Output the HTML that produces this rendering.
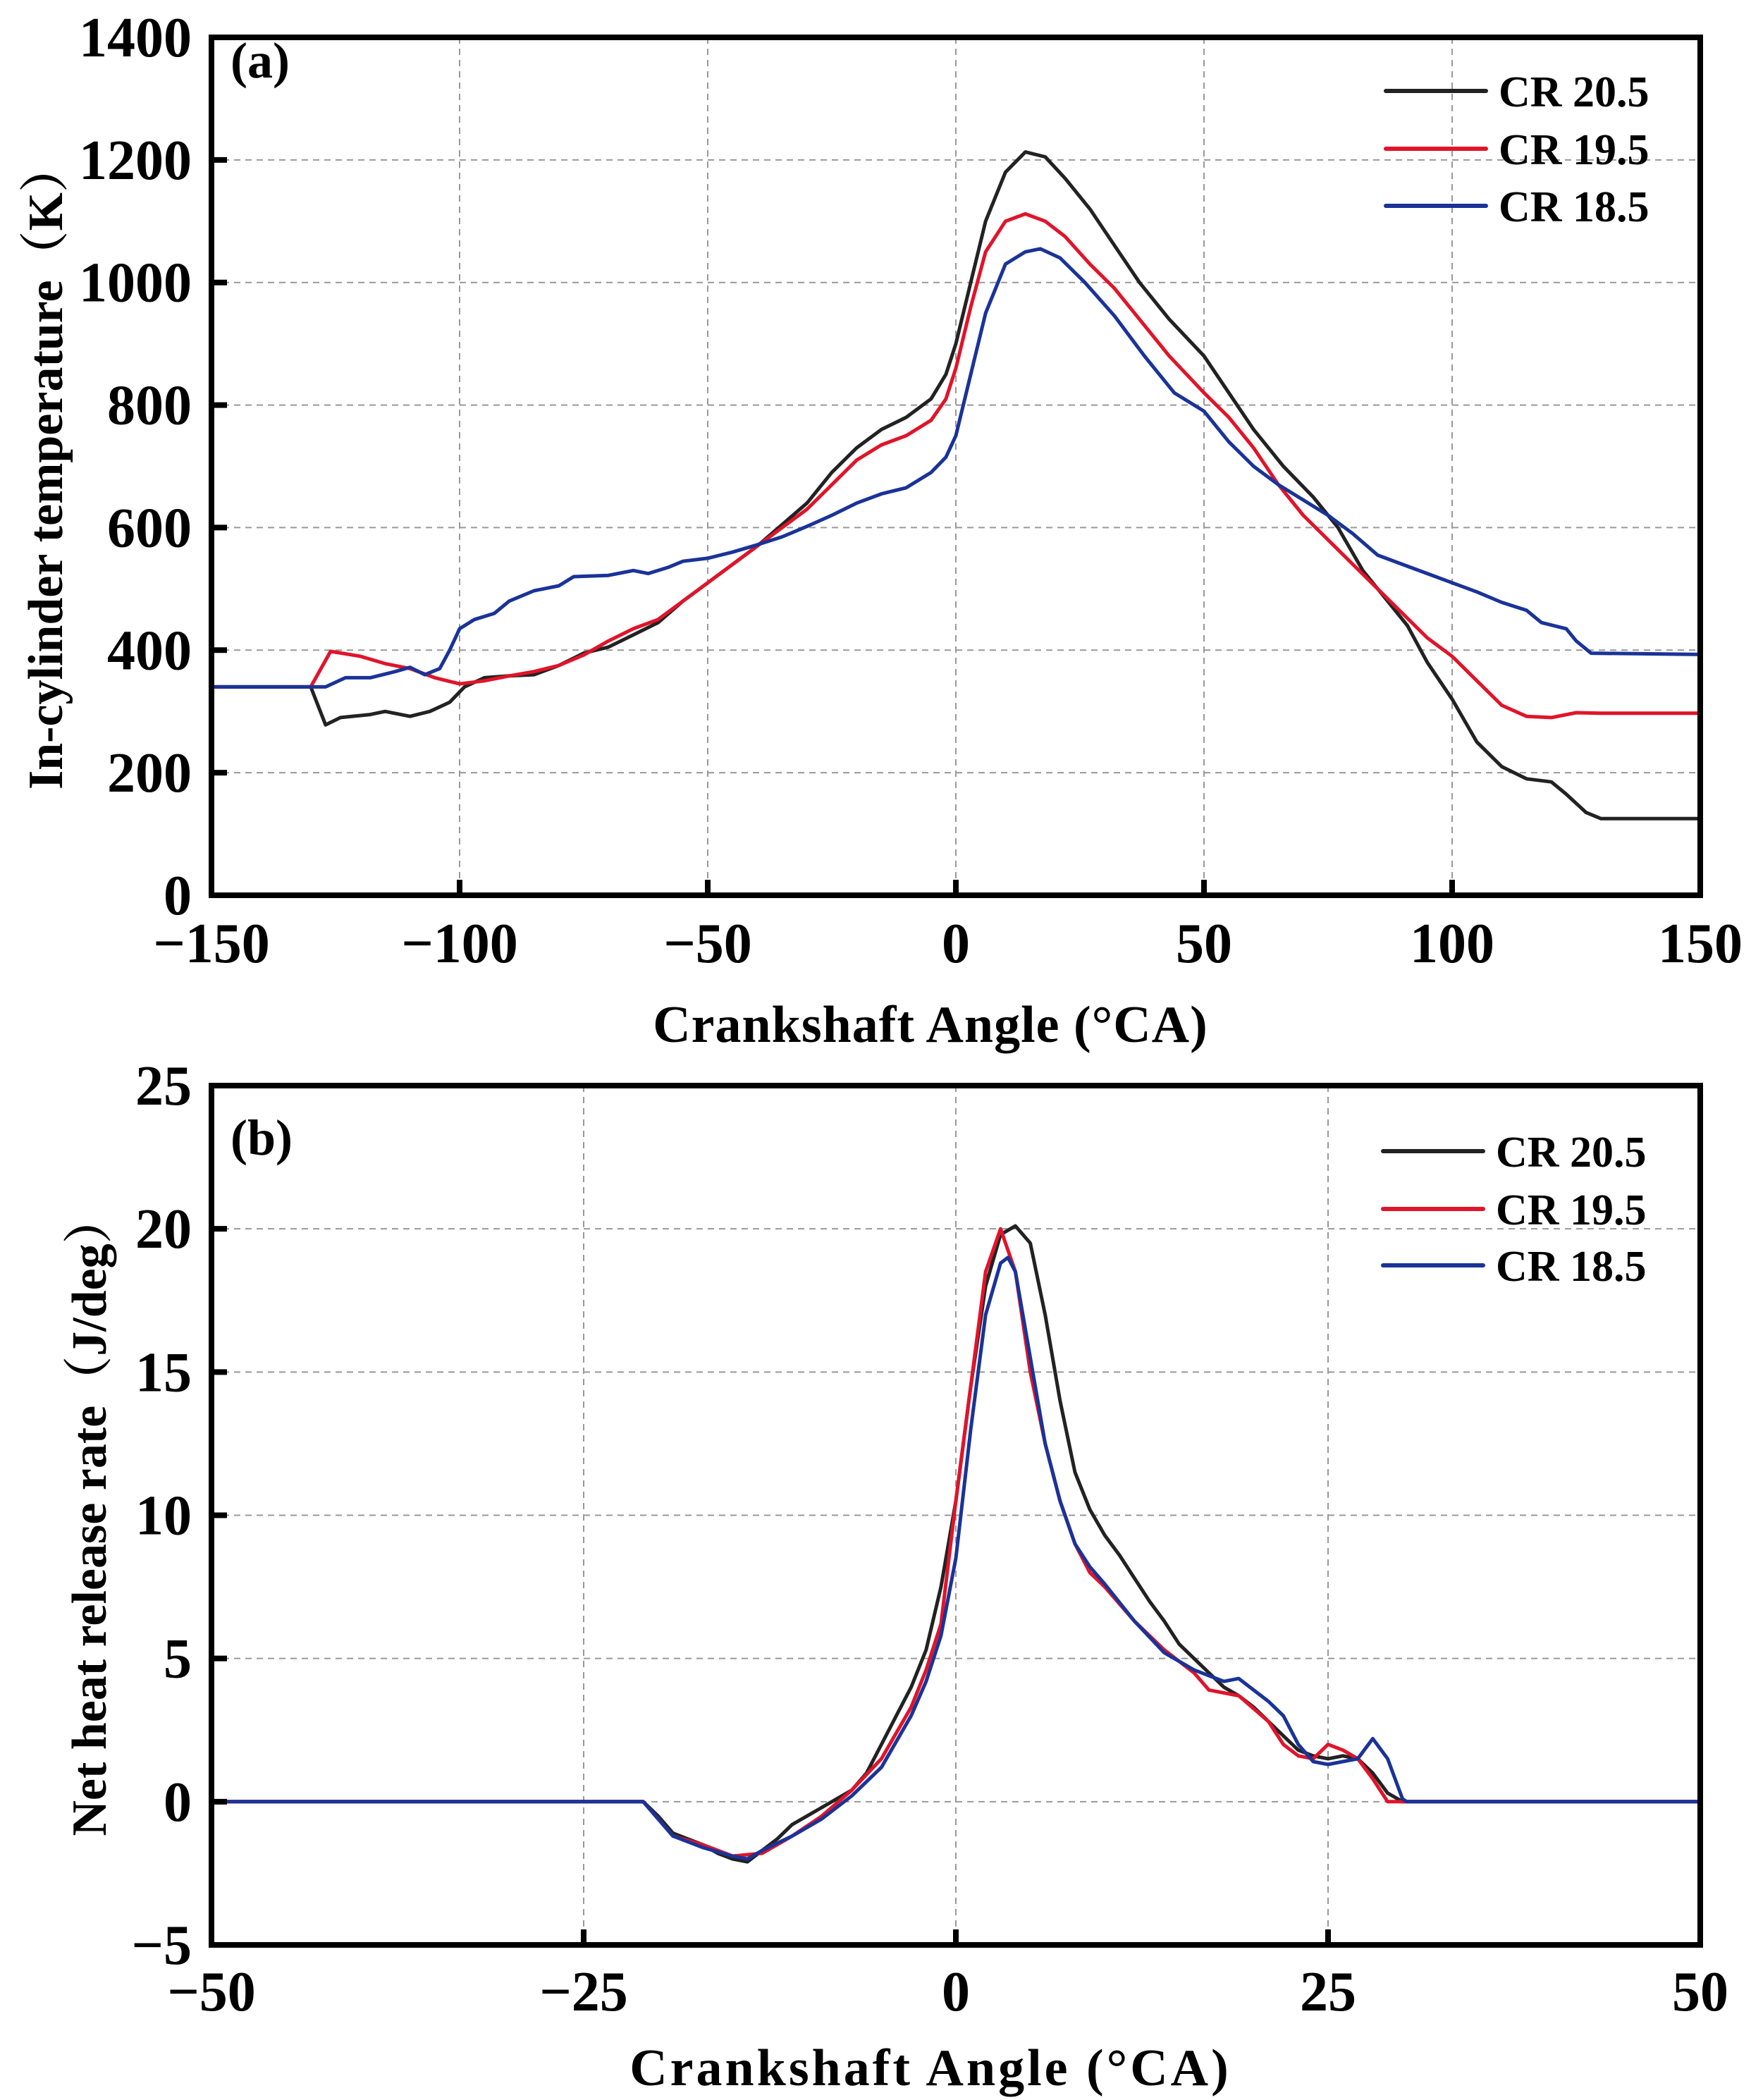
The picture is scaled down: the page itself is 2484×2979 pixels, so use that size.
<!DOCTYPE html>
<html><head><meta charset="utf-8"><style>
html,body{margin:0;padding:0;background:#fff;}
svg{display:block;}
text{font-family:"Liberation Serif","Noto Serif CJK SC",serif;font-weight:bold;fill:#000;}
</style></head><body>
<svg id="chart" width="2484" height="2979" viewBox="0 0 2484 2979" xmlns="http://www.w3.org/2000/svg" font-family="Liberation Serif, Noto Serif CJK SC, serif" font-weight="bold"></svg>
<script>
// ---- Panel (a) data ----
const aX20 = [-150,-130,-127,-124,-118,-115,-110,-106,-102,-99,-95,-90,-85,-80,-75,-70,-65,-60,-55,-50,-45,-40,-35,-30,-25,-20,-15,-10,-5,-2,0,3,6,10,14,18,22,27,32,37,43,50,55,60,66,72,77,82,87,91,95,100,105,110,115,120,123,127,130,150];
const aY20 = [340,340,278,290,295,300,292,300,315,340,355,358,360,375,395,405,425,445,480,510,540,570,605,640,690,730,760,780,810,850,900,1000,1100,1180,1213,1205,1170,1120,1060,1000,940,880,820,760,700,650,600,530,480,440,380,320,250,210,190,185,165,135,125,125];
const aX19 = [-150,-130,-126,-120,-115,-110,-105,-100,-95,-90,-85,-80,-75,-70,-65,-60,-55,-50,-45,-40,-35,-30,-25,-20,-15,-10,-5,-2,0,3,6,10,14,18,22,27,32,37,43,50,55,60,65,70,75,80,85,90,95,100,105,110,115,120,125,130,150];
const aY19 = [340,340,398,390,378,370,355,345,350,358,365,375,392,415,435,450,480,510,540,570,600,630,670,710,735,750,775,810,860,960,1050,1100,1112,1100,1075,1030,990,940,880,820,780,730,670,620,580,540,500,460,420,390,350,310,292,290,298,297,297];
const aX18 = [-150,-130,-127,-123,-118,-113,-110,-107,-104,-102,-100,-97,-93,-90,-85,-80,-77,-70,-65,-62,-58,-55,-50,-45,-40,-35,-30,-25,-20,-15,-10,-5,-2,0,3,6,10,14,17,21,26,32,38,44,50,55,60,65,70,75,80,85,90,95,100,105,110,115,118,123,125,128,150];
const aY18 = [340,340,340,355,355,365,372,360,370,400,435,450,460,480,497,505,520,522,530,525,535,545,550,560,572,585,602,620,640,655,665,690,715,750,850,950,1030,1050,1055,1040,1000,945,880,820,790,740,700,670,645,620,590,555,540,525,510,495,478,465,445,435,415,395,393];
const aXTicks = [-150,-100,-50,0,50,100,150];
const aYTicks = [0,200,400,600,800,1000,1200,1400];
// ---- Panel (b) data ----
const bX20 = [-49,-21,-20,-19,-18,-17,-16,-15,-14,-13,-12,-11,-10,-9,-8,-7,-6,-5,-4,-3,-2,-1,0,1,2,3,4,5,6,7,8,9,10,11,12,13,14,15,16,17,18,19,20,21,22,23,24,25,26,27,28,29,30,50];
const bY20 = [0,0,-0.5,-1.1,-1.3,-1.5,-1.8,-2.0,-2.1,-1.7,-1.3,-0.8,-0.5,-0.2,0.1,0.4,1.0,2.0,3.0,4.0,5.3,7.5,10.5,14.5,18,19.8,20.1,19.5,17,14,11.5,10.2,9.3,8.6,7.8,7.0,6.3,5.5,5.0,4.5,4.0,3.7,3.3,2.8,2.3,1.8,1.6,1.5,1.6,1.5,1.0,0.3,0,0];
const bX19 = [-49,-21,-19,-17,-15,-13,-11,-9,-7,-5,-3,-2,-1,0,1,2,3,4,5,6,7,8,9,10,12,14,16,17,19,21,22,23,24,25,26,27,28,29,50];
const bY19 = [0,0,-1.2,-1.5,-1.9,-1.8,-1.2,-0.5,0.4,1.5,3.3,4.6,6.2,10.5,14.5,18.5,20,18.5,15,12.5,10.5,9.0,8.0,7.5,6.3,5.3,4.5,3.9,3.7,2.8,2.0,1.6,1.5,2.0,1.8,1.5,0.8,0,0];
const bX18 = [-49,-21,-20,-19,-17,-15,-14,-13,-11,-9,-7,-5,-3,-2,-1,0,1,2,3,3.5,4,5,6,7,8,9,10,12,14,16,18,19,20,21,22,23,24,25,26,27,28,29,30,30.3,50];
const bY18 = [0,0,-0.6,-1.2,-1.6,-1.9,-2.0,-1.7,-1.2,-0.6,0.2,1.2,3.0,4.2,5.8,8.5,13,17,18.8,19,18.5,15.5,12.5,10.5,9.0,8.2,7.6,6.3,5.2,4.6,4.2,4.3,3.9,3.5,3.0,2.0,1.4,1.3,1.4,1.5,2.2,1.5,0.1,0,0];
const bXTicks = [-50,-25,0,25,50];
const bYTicks = [-5,0,5,10,15,20,25];
const seriesNames = ['CR 20.5','CR 19.5','CR 18.5'];
const colors = ['#222222','#e0142a','#1a3399'];

const NS='http://www.w3.org/2000/svg';
const svg=document.getElementById('chart');
const FF='"Liberation Serif", "Noto Serif CJK SC", serif';
function mk(tag,attrs,parent){const e=document.createElementNS(NS,tag);for(const k in attrs)e.setAttribute(k,attrs[k]);if(tag==='text'){e.style.fontFamily=FF;e.style.fontWeight='bold';}(parent||svg).appendChild(e);return e;}

function panel(cfg){
  const g=mk('g',{});
  
  
  const L=300,R=2412,T=cfg.top,B=cfg.bottom;
  const sx=v=>L+(v-cfg.xmin)/(cfg.xmax-cfg.xmin)*(R-L);
  const sy=v=>B-(v-cfg.ymin)/(cfg.ymax-cfg.ymin)*(B-T);
  cfg.xt.forEach(v=>{ if(v>cfg.xmin&&v<cfg.xmax){const l=mk('line',{x1:sx(v),x2:sx(v),y1:T,y2:B,stroke:'#999','stroke-width':2,'stroke-dasharray':'9,7'},g);
    
    }});
  cfg.yt.forEach(v=>{ if(v>cfg.ymin&&v<cfg.ymax){const l=mk('line',{x1:L,x2:R,y1:sy(v),y2:sy(v),stroke:'#999','stroke-width':2,'stroke-dasharray':'9,7'},g);
    
    }});
  cfg.series.forEach((s,i)=>{
    const d=s.x.map((xv,j)=>(j?'L':'M')+sx(xv).toFixed(1)+','+sy(s.y[j]).toFixed(1)).join('');
    const p=mk('path',{d:d,fill:'none',stroke:colors[i],'stroke-width':5,'stroke-linejoin':'round'},g);
    
    
  });
  const fr=mk('rect',{x:L,y:T,width:R-L,height:B-T,fill:'none',stroke:'#000','stroke-width':8},g);
  
  
  cfg.xt.forEach(v=>{
    mk('line',{x1:sx(v),x2:sx(v),y1:B,y2:B-22,stroke:'#000','stroke-width':8},g);
    const t=mk('text',{x:sx(v),y:cfg.xtickY,'text-anchor':'middle','font-size':80},g);
    t.textContent=(v<0?'\u2212'+(-v):v);
    
    
  });
  cfg.yt.forEach(v=>{
    mk('line',{x1:L,x2:L+22,y1:sy(v),y2:sy(v),stroke:'#000','stroke-width':8},g);
    const t=mk('text',{x:272,y:sy(v)+27,'text-anchor':'end','font-size':80},g);
    t.textContent=(v<0?'\u2212'+(-v):v);
    
    
  });
  const lab=mk('text',{x:327,y:cfg.labelY,'font-size':72},g);
  lab.textContent=cfg.label;
  
  
  const xt=mk('text',{x:1320,y:cfg.xtitleY,'text-anchor':'middle','font-size':74,'letter-spacing':cfg.xls},g);
  xt.textContent='Crankshaft Angle (\u00B0CA)';
  
  
  const cy=(T+B)/2;
  const yt=mk('text',{x:cfg.ytitleX,y:cy,'text-anchor':'middle','font-size':70,transform:`rotate(-90 ${cfg.ytitleX} ${cy})`},g);
  yt.textContent=cfg.ytitle;
  
  
  cfg.legY.forEach((y,i)=>{
    const lg=mk('g',{},g);
    
    
    mk('line',{x1:cfg.legX,x2:cfg.legX+142,y1:y,y2:y,stroke:colors[i],'stroke-width':6,'stroke-linecap':'round'},lg);
    const t=mk('text',{x:cfg.legX+160,y:y+22,'font-size':62},lg);
    t.textContent=seriesNames[i];
  });
}
panel({id:'panel-a-temperature',top:53,bottom:1270,xmin:-150,xmax:150,ymin:0,ymax:1400,xt:aXTicks,yt:aYTicks,
  series:[{x:aX20,y:aY20},{x:aX19,y:aY19},{x:aX18,y:aY18}],xtickY:1365,labelY:110,label:'(a)',xtitleY:1478,xls:1,
  ytitle:'In-cylinder temperature\uFF08K\uFF09',ytitleX:88,legX:1966,legY:[129,211,292]});
panel({id:'panel-b-heat-release',top:1540,bottom:2759,xmin:-50,xmax:50,ymin:-5,ymax:25,xt:bXTicks,yt:bYTicks,
  series:[{x:bX20,y:bY20},{x:bX19,y:bY19},{x:bX18,y:bY18}],xtickY:2852,labelY:1638,label:'(b)',xtitleY:2958,xls:4,
  ytitle:'Net heat release rate\uFF08J/deg\uFF09',ytitleX:150,legX:1962,legY:[1633,1715,1795]});
</script>
</body></html>
